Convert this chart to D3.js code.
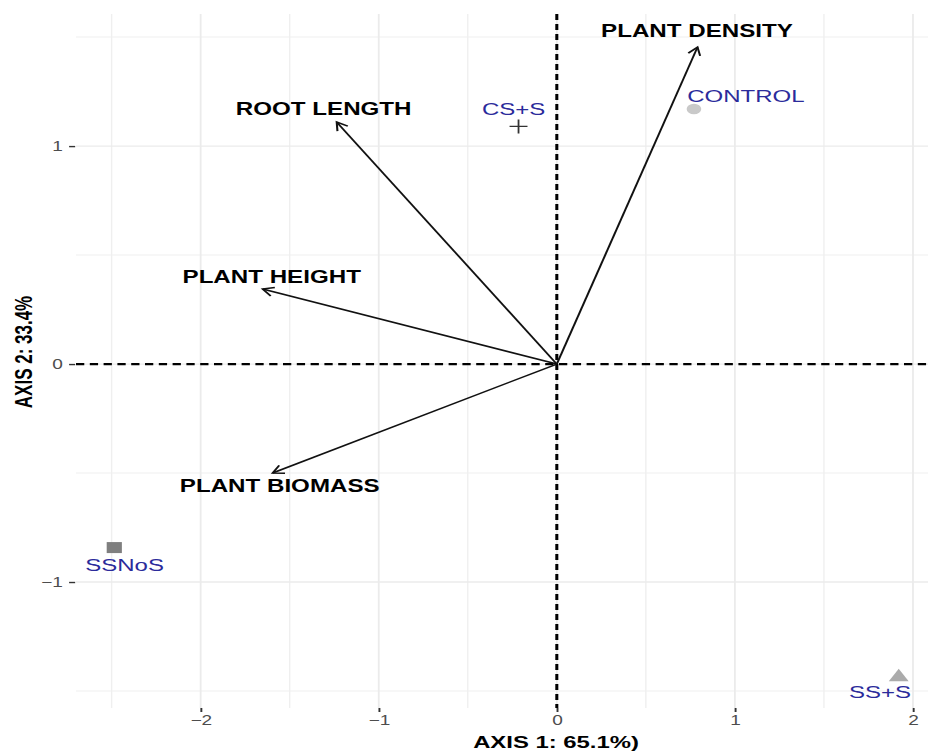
<!DOCTYPE html>
<html><head><meta charset="utf-8">
<script src="https://cdn.jsdelivr.net/npm/d3@7"></script>
<style>body{margin:0;background:#fff}svg{display:block}text{font-family:"Liberation Sans",Arial,sans-serif}</style>
</head><body><div id="chart"></div>
<script>
// ---- data ----
const variables = ["PLANT DENSITY","ROOT LENGTH","PLANT HEIGHT","PLANT BIOMASS"];
const varAxis1 = [0.79, -1.236, -1.652, -1.596];
const varAxis2 = [1.454, 1.11, 0.344, -0.50];
const varLabelAxis1 = [0.787, -1.309, -1.601, -1.556];
const varLabelAxis2 = [1.528, 1.17, 0.399, -0.56];

const treatments = ["CONTROL","CS+S","SSNoS","SS+S"];
const trtAxis1 = [0.77, -0.215, -2.485, 1.92];
const trtAxis2 = [1.17, 1.09, -0.842, -1.435];
const trtLabelAxis1 = [1.062, -0.242, -2.427, 1.815];
const trtLabelAxis2 = [1.229, 1.17, -0.922, -1.505];
const trtShapes = ["circle","plus","square","triangle"];
const trtFill = ["#c9c9c9","#333333","#7f7f7f","#ababab"];

const xTicks = [-2,-1,0,1,2];
const yTicks = [-1,0,1];
const xMinor = [-2.5,-1.5,-0.5,0.5,1.5];
const yMinor = [-1.5,-0.5,0.5,1.5];
const xTitle = "AXIS 1: 65.1%)";
const yTitle = "AXIS 2: 33.4%";

// ---- layout ----
const W = 928, H = 754, SX = 1.38;
const pLeft = 76, pRight = 929, pTop = 14, pBottom = 708;
const svg = d3.select("#chart").append("svg").attr("width", W).attr("height", H);
const g = svg.append("g").attr("transform", `scale(${SX},1)`);

const x = d3.scaleLinear().domain([-2.7, 2.09]).range([pLeft / SX, pRight / SX]);
const y = d3.scaleLinear().domain([-1.578, 1.606]).range([pBottom, pTop]);

// grid
const grid = g.append("g");
grid.selectAll(".vmin").data(xMinor).join("line")
  .attr("x1", d => x(d)).attr("x2", d => x(d)).attr("y1", pTop).attr("y2", pBottom)
  .attr("stroke", "#efefef").attr("stroke-width", 1);
grid.selectAll(".hmin").data(yMinor).join("line")
  .attr("y1", d => y(d)).attr("y2", d => y(d)).attr("x1", pLeft / SX).attr("x2", pRight / SX)
  .attr("stroke", "#efefef").attr("stroke-width", 1);
grid.selectAll(".vmaj").data(xTicks).join("line")
  .attr("x1", d => x(d)).attr("x2", d => x(d)).attr("y1", pTop).attr("y2", pBottom)
  .attr("stroke", "#ebebeb").attr("stroke-width", 1.3);
grid.selectAll(".hmaj").data(yTicks).join("line")
  .attr("y1", d => y(d)).attr("y2", d => y(d)).attr("x1", pLeft / SX).attr("x2", pRight / SX)
  .attr("stroke", "#ebebeb").attr("stroke-width", 1.3);

// axes
const xAxis = g.append("g").attr("transform", `translate(0,${pBottom})`)
  .call(d3.axisBottom(x).tickValues(xTicks).tickSize(4).tickPadding(3).tickFormat(d3.format("d")));
const yAxis = g.append("g").attr("transform", `translate(${pLeft / SX - 0.6},0)`)
  .call(d3.axisLeft(y).tickValues(yTicks).tickSize(4.4).tickPadding(4.6).tickFormat(d3.format("d")));
[xAxis, yAxis].forEach(a => {
  a.select(".domain").remove();
  a.selectAll(".tick line").attr("stroke", "#333").attr("stroke-width", 1.4);
  a.selectAll(".tick text").attr("fill", "#4d4d4d").style("font-size", "13.8px")
    .style("font-family", '"Liberation Sans",Arial,sans-serif');
});

// reference dashed lines
g.append("line").attr("x1", pLeft / SX).attr("x2", pRight / SX).attr("y1", y(0)).attr("y2", y(0))
  .attr("stroke", "#000").attr("stroke-width", 2.2).attr("stroke-dasharray", "6,4");
g.append("line").attr("x1", x(0)).attr("x2", x(0)).attr("y1", pTop).attr("y2", pBottom)
  .attr("stroke", "#000").attr("stroke-width", 2.2).attr("stroke-dasharray", "6,4");

// arrows
const arrows = g.append("g");
variables.forEach((v, i) => {
  const x0 = x(0), y0 = y(0), x1 = x(varAxis1[i]), y1 = y(varAxis2[i]);
  arrows.append("line").attr("x1", x0).attr("y1", y0).attr("x2", x1).attr("y2", y1)
    .attr("stroke", "#111").attr("stroke-width", 1.5);
  const ang = Math.atan2(y1 - y0, x1 - x0), L = 9, a = Math.PI / 6;
  const p1 = [x1 - L * Math.cos(ang - a), y1 - L * Math.sin(ang - a)];
  const p2 = [x1 - L * Math.cos(ang + a), y1 - L * Math.sin(ang + a)];
  arrows.append("path").attr("d", `M${p1[0]},${p1[1]}L${x1},${y1}L${p2[0]},${p2[1]}`)
    .attr("fill", "none").attr("stroke", "#111").attr("stroke-width", 1.5);
  arrows.append("text").attr("x", x(varLabelAxis1[i])).attr("y", y(varLabelAxis2[i]))
    .attr("dy", "0.36em").attr("text-anchor", "middle").attr("font-weight", "bold")
    .style("font-size", "17.5px").attr("fill", "#000").text(v);
});

// points
const pts = g.append("g");
treatments.forEach((t, i) => {
  const cx = x(trtAxis1[i]), cy = y(trtAxis2[i]);
  const s = trtShapes[i];
  if (s === "circle") pts.append("circle").attr("cx", cx).attr("cy", cy).attr("r", 5.3).attr("fill", trtFill[i]);
  else if (s === "square") pts.append("rect").attr("x", cx - 5.5).attr("y", cy - 5.5).attr("width", 11).attr("height", 11).attr("fill", trtFill[i]);
  else if (s === "triangle") pts.append("path").attr("d", `M${cx},${cy - 8}L${cx + 7.2},${cy + 4.3}L${cx - 7.2},${cy + 4.3}Z`).attr("fill", trtFill[i]);
  else pts.append("path").attr("d", `M${cx - 6.5},${cy}H${cx + 6.5}M${cx},${cy - 7}V${cy + 7}`).attr("stroke", trtFill[i]).attr("stroke-width", 1.3);
  pts.append("text").attr("x", x(trtLabelAxis1[i])).attr("y", y(trtLabelAxis2[i]))
    .attr("dy", "0.36em").attr("text-anchor", "middle").style("font-size", "17.4px")
    .attr("fill", "#2b2b9b").text(t);
});

// titles
g.append("text").attr("x", 556 / SX).attr("y", 742).attr("dy", "0.36em").attr("text-anchor", "middle")
  .attr("font-weight", "bold").style("font-size", "17.3px").attr("fill", "#000").text(xTitle);
g.append("text").attr("transform", `translate(${24 / SX},352) rotate(-90)`).attr("dy", "0.36em")
  .attr("text-anchor", "middle").attr("font-weight", "bold").style("font-size", "17px").attr("fill", "#000").text(yTitle);
</script></body></html>
